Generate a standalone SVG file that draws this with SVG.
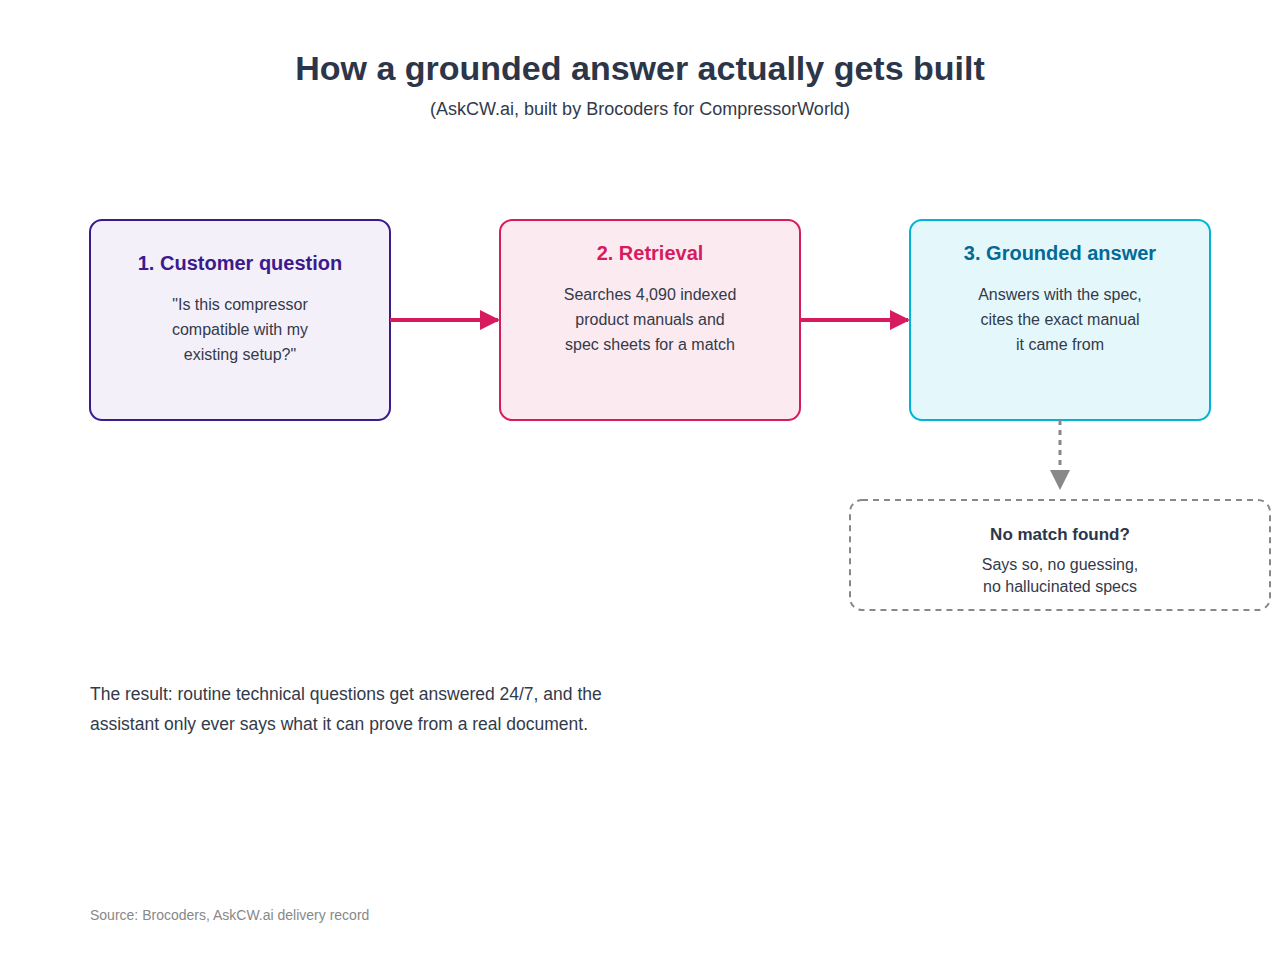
<svg xmlns="http://www.w3.org/2000/svg" width="1280" height="960" viewBox="0 0 1280 960">
<style>
text{font-family:"Liberation Sans",Arial,sans-serif;text-anchor:middle}
.t{font-size:20px;font-weight:bold}
.b{font-size:16px;fill:#333a4a}
</style>
<defs>
<marker id="ap" markerWidth="20" markerHeight="20" refX="18" refY="10" orient="auto" markerUnits="userSpaceOnUse" viewBox="0 0 20 20"><path d="M0,0L20,10L0,20z" fill="#d81b60"/></marker>
<marker id="ag" markerWidth="20" markerHeight="20" refX="18" refY="10" orient="auto" markerUnits="userSpaceOnUse" viewBox="0 0 20 20"><path d="M0,0L20,10L0,20z" fill="#888"/></marker>
</defs>
<rect width="1280" height="960" fill="#fff"/>
<text x="640" y="80" style="font-size:34px;font-weight:bold;fill:#2d3648">How a grounded answer actually gets built</text>
<text x="640" y="115" class="b" style="font-size:18px">(AskCW.ai, built by Brocoders for CompressorWorld)</text>
<g id="n1"><rect x="90" y="220" width="300" height="200" rx="12" fill="#f3f0fa" stroke="#3c1a8c" stroke-width="2"/>
<text x="240" y="270" class="t" fill="#3c1a8c">1. Customer question</text>
<text x="240" y="310" class="b">"Is this compressor</text><text x="240" y="335" class="b">compatible with my</text><text x="240" y="360" class="b">existing setup?"</text></g>
<g id="n2"><rect x="500" y="220" width="300" height="200" rx="12" fill="#fbeaf0" stroke="#d81b60" stroke-width="2"/>
<text x="650" y="260" class="t" fill="#d81b60">2. Retrieval</text>
<text x="650" y="300" class="b">Searches 4,090 indexed</text><text x="650" y="325" class="b">product manuals and</text><text x="650" y="350" class="b">spec sheets for a match</text></g>
<g id="n3"><rect x="910" y="220" width="300" height="200" rx="12" fill="#e4f8fc" stroke="#00b4d8" stroke-width="2"/>
<text x="1060" y="260" class="t" fill="#036a96">3. Grounded answer</text>
<text x="1060" y="300" class="b">Answers with the spec,</text><text x="1060" y="325" class="b">cites the exact manual</text><text x="1060" y="350" class="b">it came from</text></g>
<g id="n4"><rect x="850" y="500" width="420" height="110" rx="12" fill="#fff" stroke="#888" stroke-width="2" stroke-dasharray="6,5"/>
<text x="1060" y="540" class="b" style="font-size:17px;font-weight:bold;fill:#2d3648">No match found?</text>
<text x="1060" y="570" class="b">Says so, no guessing,</text><text x="1060" y="592" class="b">no hallucinated specs</text></g>
<g id="connectors">
<line x1="390" y1="320" x2="498" y2="320" stroke="#d81b60" stroke-width="4" marker-end="url(#ap)"/>
<line x1="800" y1="320" x2="908" y2="320" stroke="#d81b60" stroke-width="4" marker-end="url(#ap)"/>
<line x1="1060" y1="420" x2="1060" y2="488" stroke="#888" stroke-width="3" stroke-dasharray="5,5" marker-end="url(#ag)"/>
</g>
<text x="90" y="700" class="b" style="text-anchor:start;font-size:17.5px">The result: routine technical questions get answered 24/7, and the</text>
<text x="90" y="730" class="b" style="text-anchor:start;font-size:17.5px">assistant only ever says what it can prove from a real document.</text>
<text x="90" y="920" style="text-anchor:start;font-size:14px;fill:#888">Source: Brocoders, AskCW.ai delivery record</text>
</svg>
